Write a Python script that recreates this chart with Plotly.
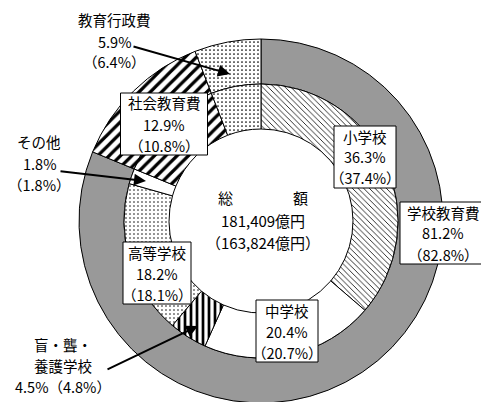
import plotly.graph_objects as go

# outer ring: 3 main categories
outer_labels = ["学校教育費", "社会教育費", "教育行政費"]
outer_values = [81.2, 12.9, 5.9]
outer_prev = [82.8, 10.8, 6.4]

# inner ring: breakdown of school education + the same two categories
inner_labels = ["小学校", "中学校", "盲・聾・養護学校", "高等学校", "その他", "社会教育費", "教育行政費"]
inner_values = [36.3, 20.4, 4.5, 18.2, 1.8, 12.9, 5.9]
inner_prev = [37.4, 20.7, 4.8, 18.1, 1.8, 10.8, 6.4]

total_now = "181,409"
total_prev = "163,824"

W, H = 489, 402
CX, CY = 253, 213
R_OUT, R_MID, R_IN = 182, 137, 92

FONT = "Noto Sans CJK JP"
FS = 14.5
LINE = 21


def px_x(x):
    return x / W


def px_y(y):
    return 1 - y / H


def domain(r):
    return dict(x=[px_x(CX - r), px_x(CX + r)], y=[px_y(CY + r), px_y(CY - r)])


outer_pattern = dict(
    shape=["", "/", "."],
    size=[6, 8, 4],
    solidity=[0.2, 0.4, 0.15],
    fgcolor="black",
    bgcolor=["#999999", "white", "white"],
)
inner_pattern = dict(
    shape=["\\", "", "|", ".", "", "/", "."],
    size=[4, 6, 6, 4, 6, 8, 4],
    solidity=[0.2, 0.2, 0.45, 0.12, 0.2, 0.4, 0.15],
    fgcolor="black",
    bgcolor="white",
)

fig = go.Figure()
fig.add_trace(go.Pie(
    labels=outer_labels, values=outer_values, sort=False, direction="clockwise",
    hole=R_MID / R_OUT, domain=domain(R_OUT), textinfo="none", showlegend=False,
    marker=dict(colors=["#999999", "white", "white"], pattern=outer_pattern,
                line=dict(color="black", width=1)),
))
fig.add_trace(go.Pie(
    labels=inner_labels, values=inner_values, sort=False, direction="clockwise",
    hole=R_IN / R_MID, domain=domain(R_MID), textinfo="none", showlegend=False,
    marker=dict(colors=["white"] * len(inner_values), pattern=inner_pattern,
                line=dict(color="black", width=1)),
))

ann = []
shapes = []


def lines(rows, x, y, step=LINE, size=FS):
    # one annotation per text row, centred on (x, y)
    y0 = y - step * (len(rows) - 1) / 2
    for i, t in enumerate(rows):
        ann.append(dict(text=t, x=px_x(x), y=px_y(y0 + i * step), xref="paper", yref="paper",
                        xanchor="center", yanchor="middle", showarrow=False,
                        font=dict(family=FONT, size=size, color="black")))


def boxed(rows, x, y, w):
    h = LINE * (len(rows) - 1) + 20
    shapes.append(dict(type="rect", xref="paper", yref="paper",
                       x0=px_x(x - w / 2), x1=px_x(x + w / 2),
                       y0=px_y(y + h / 2), y1=px_y(y - h / 2),
                       fillcolor="white", line=dict(color="black", width=1), layer="above"))
    lines(rows, x, y)


def arrow(x0, y0, x1, y1):
    ann.append(dict(text="", x=px_x(x1), y=px_y(y1), xref="paper", yref="paper",
                    ax=x0 - x1, ay=y0 - y1, showarrow=True, arrowhead=2,
                    arrowsize=1.2, arrowwidth=2, arrowcolor="black"))


def rows3(name, v, p):
    return [name, f"{v}%", f"（{p}%）"]


arrow(124, 38, 222, 66)
arrow(51, 163, 138, 173)
arrow(98, 362, 190, 318)

boxed(rows3(inner_labels[0], inner_values[0], inner_prev[0]), 357, 149, 62)
boxed(rows3(outer_labels[0], outer_values[0], outer_prev[0]), 435, 225, 86)
boxed(rows3(inner_labels[1], inner_values[1], inner_prev[1]), 279, 323, 62)
boxed(rows3(inner_labels[3], inner_values[3], inner_prev[3]), 149, 265, 68)
boxed(rows3(outer_labels[1], outer_values[1], outer_prev[1]), 156, 116, 87)

lines(rows3(outer_labels[2], outer_values[2], outer_prev[2]), 106, 33)
lines(rows3(inner_labels[4], inner_values[4], inner_prev[4]), 31, 155)
lines(["盲・聾・", "養護学校", f"{inner_values[2]}%（{inner_prev[2]}%）"], 55, 357)

lines(["総　　　　額", f"{total_now}億円", f"（{total_prev}億円）"], 255, 212, step=22, size=15)

fig.update_layout(
    width=W, height=H, margin=dict(l=0, r=0, t=0, b=0),
    paper_bgcolor="white", plot_bgcolor="white",
    annotations=ann, shapes=shapes, font=dict(family=FONT),
)

fig.write_html("out.html")
